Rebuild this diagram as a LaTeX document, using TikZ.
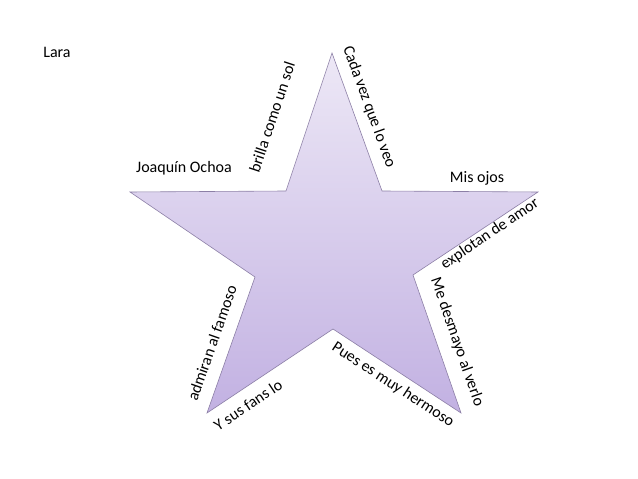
\documentclass[tikz,border=0pt]{standalone}
\usepackage{fontspec}
\setmainfont{Carlito}
\usepackage{tikz}
\usetikzlibrary{positioning}
\definecolor{stTop}{HTML}{EDE8F6}
\definecolor{stBot}{HTML}{C2B1E2}
\definecolor{stLine}{HTML}{8C7FA6}
\begin{document}
\begin{tikzpicture}[x=1pt, y=1pt, Lb/.style={font=\fontsize{16}{19}\selectfont, inner sep=0pt}]
\useasboundingbox (0,0) rectangle (638,479);
\coordinate (t) at (332,426);
\coordinate (tr) at (382,288);
\coordinate (r) at (538,287);
\coordinate (ir) at (413,204);
\coordinate (br) at (461,66);
\coordinate (ib) at (333,150);
\coordinate (bl) at (207,66);
\coordinate (il) at (255,202);
\coordinate (l) at (130,287);
\coordinate (tl) at (286,288);

\draw[stLine, line width=0.6pt, top color=stTop, bottom color=stBot]
  (t) -- (tr) -- (r) -- (ir) -- (br) -- (ib) -- (bl) -- (il) -- (l) -- (tl) -- cycle;

\node[Lb] at (57,427) (lara) {Lara};
\node[Lb] at (184,311) (jo) {Joaquín Ochoa};
\node[Lb] at (477,301) (mo) {Mis ojos};
\node[Lb, rotate=71.6] at (272,362) (bs) {brilla como un sol};
\node[Lb, rotate=-70] at (369,372) (cv) {Cada vez que lo veo};
\node[Lb, rotate=34] at (490,245) (ea) {explotan de amor};
\node[Lb, rotate=-70.8] at (457,137) (md) {Me desmayo al verlo};
\node[Lb, rotate=-33.3] at (393,94) (ph) {Pues es muy hermoso};
\node[Lb, rotate=33.7] at (248,74) (ys) {Y sus fans lo};
\node[Lb, rotate=70.6] at (212,136) (af) {admiran al famoso};

\end{tikzpicture}
\end{document}
